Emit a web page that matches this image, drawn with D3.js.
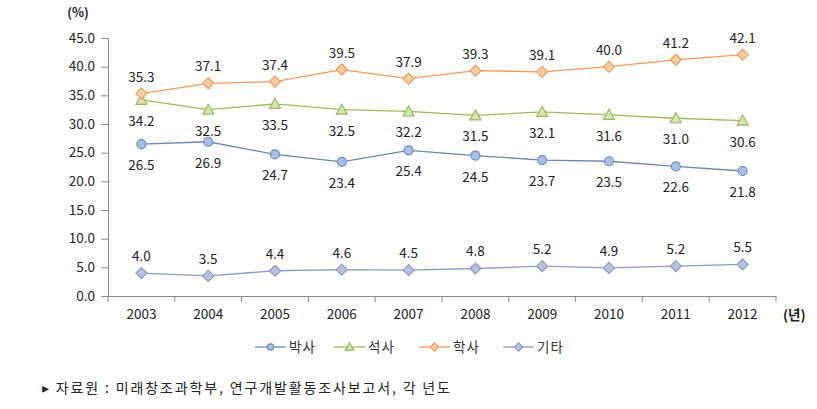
<!DOCTYPE html>
<html><head><meta charset="utf-8">
<script src="https://cdn.jsdelivr.net/npm/d3@7"></script>
<style>
body{margin:0;background:#fff;}
text{font-family:"Noto Sans CJK KR","Malgun Gothic",sans-serif;}
</style></head>
<body><svg id="c" width="817" height="409"></svg>
<script>
const years = ["2003","2004","2005","2006","2007","2008","2009","2010","2011","2012"];
const phd = [26.5,26.9,24.7,23.4,25.4,24.5,23.7,23.5,22.6,21.8];
const master = [34.2,32.5,33.5,32.5,32.2,31.5,32.1,31.6,31.0,30.6];
const bachelor = [35.3,37.1,37.4,39.5,37.9,39.3,39.1,40.0,41.2,42.1];
const other = [4.0,3.5,4.4,4.6,4.5,4.8,5.2,4.9,5.2,5.5];
const seriesNames = ["박사","석사","학사","기타"];
const yTicks = [0,5,10,15,20,25,30,35,40,45];

const series = [
 {name:seriesNames[0], values:phd, line:"#6a86b3", fill:"#a9c0e2", stroke:"#6a8cc0", shape:"circle", labelPos:"below"},
 {name:seriesNames[1], values:master, line:"#9bbb59", fill:"#d5e5b5", stroke:"#9bbb59", shape:"triangle", labelPos:"below"},
 {name:seriesNames[2], values:bachelor, line:"#f39a5a", fill:"#fbcfa6", stroke:"#f39a5a", shape:"diamond", labelPos:"above"},
 {name:seriesNames[3], values:other, line:"#8d9bc6", fill:"#b9c1dc", stroke:"#8d9bc6", shape:"diamond", labelPos:"above"}
];

const svg = d3.select("#c");
const x = d3.scaleBand().domain(years).range([108,776]);
const y = d3.scaleLinear().domain([0,45]).range([296,38]);
const axisColor = "#8a8a8a";
const numFont = "'Noto Sans',sans-serif";

// Y axis
const ya = svg.append("g").attr("transform","translate(108,0)")
 .call(d3.axisLeft(y).tickValues(yTicks).tickFormat(d3.format(".1f")).tickSize(7).tickPadding(6));
ya.select(".domain").attr("stroke",axisColor);
ya.selectAll(".tick line").attr("stroke",axisColor);
ya.selectAll("text").attr("font-size",13.5).attr("fill","#222").attr("font-family",numFont);

// X axis
const xa = svg.append("g").attr("transform","translate(0,296)")
 .call(d3.axisBottom(x).tickSize(0).tickPadding(13));
xa.select(".domain").attr("stroke",axisColor);
xa.selectAll("text").attr("font-size",13.5).attr("fill","#222").attr("font-family",numFont);
const edges = years.map(d=>x(d)).concat([776]);
svg.append("g").selectAll("line").data(edges).join("line")
 .attr("x1",d=>d).attr("x2",d=>d).attr("y1",296).attr("y2",302).attr("stroke",axisColor);

svg.append("text").attr("x",78).attr("y",17).attr("text-anchor","middle").attr("font-size",12.5).attr("font-weight","bold").attr("fill","#222").text("(%)");
svg.append("text").attr("x",783).attr("y",320).attr("font-size",13.5).attr("font-weight","bold").attr("fill","#222").text("(년)");

function marker(g, shape, fill, stroke, size){
  if(shape==="circle") g.append("circle").attr("r",size).attr("fill",fill).attr("stroke",stroke).attr("stroke-width",1.2);
  else if(shape==="triangle") g.append("path").attr("d",`M0,${-size-1}L${size+1},${size}L${-size-1},${size}Z`).attr("fill",fill).attr("stroke",stroke).attr("stroke-width",1.2);
  else g.append("path").attr("d",`M0,${-size-1}L${size+1},0L0,${size+1}L${-size-1},0Z`).attr("fill",fill).attr("stroke",stroke).attr("stroke-width",1.2);
}

const cx = d=>x(d)+x.bandwidth()/2;
series.forEach(s=>{
  const pts = years.map((yr,i)=>[cx(yr), y(s.values[i]), s.values[i]]);
  svg.append("path").datum(pts).attr("d",d3.line()).attr("fill","none").attr("stroke",s.line).attr("stroke-width",1.3);
  pts.forEach(p=>{
    const g = svg.append("g").attr("transform",`translate(${p[0]},${p[1]})`);
    marker(g,s.shape,s.fill,s.stroke,4.5);
  });
  svg.append("g").selectAll("text").data(pts).join("text")
   .attr("x",d=>d[0]).attr("y",d=>s.labelPos==="above"? d[1]-12 : d[1]+26)
   .attr("text-anchor","middle").attr("font-size",13.5).attr("fill","#222").attr("font-family",numFont)
   .text(d=>d[2].toFixed(1));
});

// Legend
const legX = [255,334,419,503];
series.forEach((s,i)=>{
  const g = svg.append("g").attr("transform",`translate(${legX[i]},347)`);
  g.append("line").attr("x1",0).attr("x2",31).attr("stroke",s.line).attr("stroke-width",1.3);
  const m = g.append("g").attr("transform","translate(15.5,0)");
  marker(m,s.shape,s.fill,s.stroke,3.2);
  g.append("text").attr("x",34).attr("y",5).attr("font-size",13.5).attr("fill","#333").attr("letter-spacing",1).text(s.name);
});

svg.append("text").attr("x",42).attr("y",393).attr("font-size",14).attr("fill","#222")
 .attr("textLength",408).attr("lengthAdjust","spacing")
 .text("▸ 자료원 : 미래창조과학부, 연구개발활동조사보고서, 각 년도");
</script></body></html>
